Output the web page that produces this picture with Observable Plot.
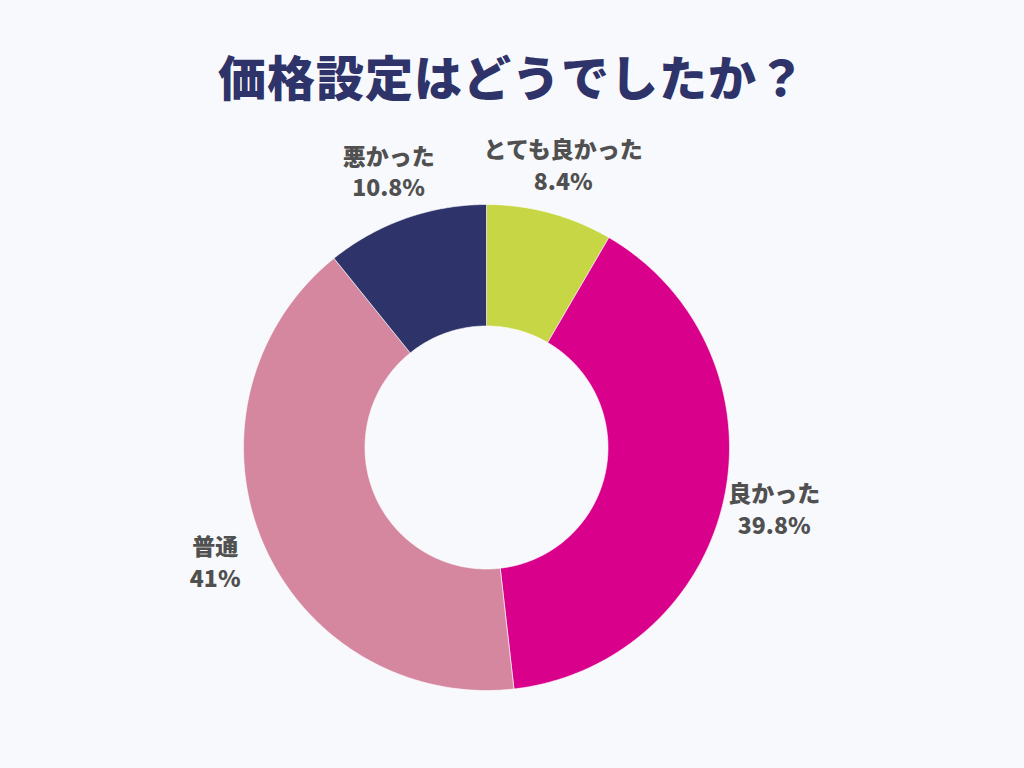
<!DOCTYPE html>
<html>
<head>
<meta charset="utf-8">
<script src="https://cdn.jsdelivr.net/npm/d3@7"></script>
<script src="https://cdn.jsdelivr.net/npm/@observablehq/plot@0.6"></script>
<style>
  html, body { margin: 0; padding: 0; background: #f8f9fc; }
  #wrap { width: 1024px; height: 768px; overflow: hidden; }
  #title {
    box-sizing: border-box; height: 130px; padding-top: 51px;
    font-family: "Noto Sans CJK JP", sans-serif; font-weight: 900;
    font-size: 48px; line-height: 48px; color: #2e3369;
    text-align: center; letter-spacing: 1px;
  }
</style>
</head>
<body>
<div id="wrap">
  <div id="title">価格設定はどうでしたか？</div>
  <div id="chart"></div>
</div>
<script>
const categories = ["とても良かった", "良かった", "普通", "悪かった"];
const values = [8.4, 39.8, 41, 10.8];
const valueLabels = ["8.4%", "39.8%", "41%", "10.8%"];
const colors = ["#c6d644", "#d9008c", "#d4879f", "#2e3369"];

const innerR = 0.5, outerR = 1, labelR = 1.21;
const total = d3.sum(values);
const slices = [];
const labels = [];
let acc = 0;
categories.forEach((c, i) => {
  const a0 = acc / total * 2 * Math.PI;
  acc += values[i];
  const a1 = acc / total * 2 * Math.PI;
  const n = Math.max(4, Math.ceil((a1 - a0) / 0.01));
  const pts = [];
  for (let k = 0; k <= n; k++) {
    const a = a0 + (a1 - a0) * k / n;
    pts.push({cat: c, x: outerR * Math.sin(a), y: outerR * Math.cos(a)});
  }
  for (let k = n; k >= 0; k--) {
    const a = a0 + (a1 - a0) * k / n;
    pts.push({cat: c, x: innerR * Math.sin(a), y: innerR * Math.cos(a)});
  }
  pts.push({...pts[0]});
  slices.push(...pts);
  const m = (a0 + a1) / 2;
  labels.push({cat: c, x: labelR * Math.sin(m), y: labelR * Math.cos(m), text: c + "\n" + valueLabels[i]});
});

const chart = Plot.plot({
  width: 1024,
  height: 638,
  marginLeft: 243,
  marginRight: 295,
  marginTop: 74,
  marginBottom: 78,
  x: {domain: [-1, 1], axis: null},
  y: {domain: [-1, 1], axis: null},
  color: {domain: categories, range: colors},
  style: {background: "transparent", overflow: "visible"},
  marks: [
    Plot.line(slices, {x: "x", y: "y", z: "cat", fill: "cat", stroke: "#ffffff", strokeWidth: 1, strokeOpacity: 0.6, curve: "linear"}),
    Plot.text(labels, {
      x: "x", y: "y", text: "text",
      fill: "#505050", fontSize: 23, fontWeight: 900,
      fontFamily: "'Noto Sans CJK JP', sans-serif",
      lineHeight: 1.38, textAnchor: "middle"
    })
  ]
});
document.getElementById("chart").appendChild(chart);
</script>
</body>
</html>
